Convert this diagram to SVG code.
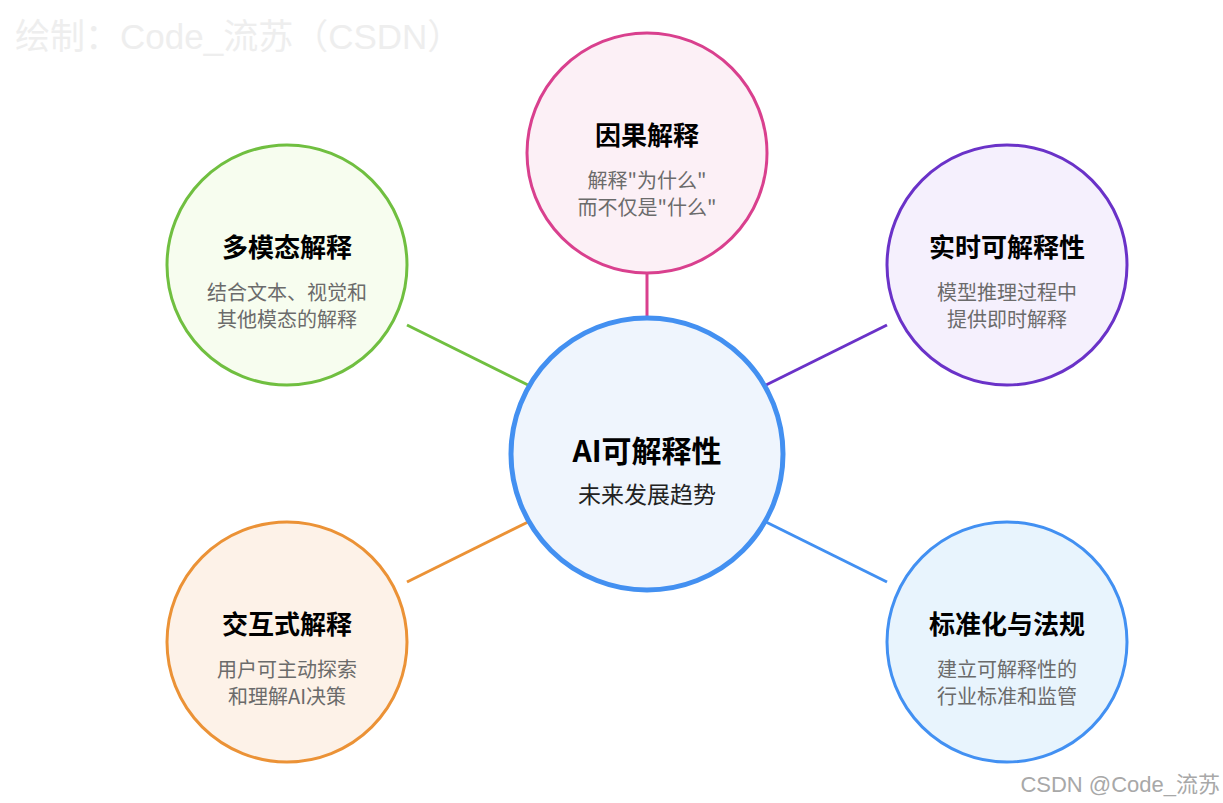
<svg xmlns="http://www.w3.org/2000/svg" width="1223" height="803" viewBox="0 0 1223 803">
<style>
text{font-family:"Noto Sans CJK SC","Noto Sans",sans-serif;text-anchor:middle}
.t{font-size:26px;font-weight:bold;fill:#000}
.s{font-size:20px;fill:#6b6b6b}
.n{stroke-width:3}
.c{stroke-width:3;fill:none}
</style>
<rect width="1223" height="803" fill="#fff"/>
<text x="15" y="49" style="text-anchor:start;font-size:35px;fill:#eeeeee;font-family:'Liberation Sans','Noto Sans CJK SC',sans-serif">绘制：Code_流苏（CSDN）</text>
<g id="connectors">
<line class="c" x1="647" y1="273" x2="647" y2="317" stroke="#d9408e"/>
<line class="c" x1="407" y1="325" x2="528" y2="385" stroke="#70bf40"/>
<line class="c" x1="887" y1="325" x2="766" y2="385" stroke="#6a32c8"/>
<line class="c" x1="407" y1="582" x2="528" y2="522" stroke="#eb9236"/>
<line class="c" x1="887" y1="582" x2="766" y2="522" stroke="#4290f2"/>
</g>
<g id="center">
<circle cx="647" cy="454" r="136" fill="#eff5fd" stroke="#4390f1" stroke-width="5"/>
<text x="647" y="462" style="font-size:30px;font-weight:bold;fill:#000">AI可解释性</text>
<text x="647" y="503" style="font-size:23px;fill:#222">未来发展趋势</text>
</g>
<g id="causal">
<circle class="n" cx="647" cy="153" r="120" fill="#fcf0f6" stroke="#d9408e"/>
<text class="t" x="647" y="145">因果解释</text>
<text class="s" x="647" y="188">解释"为什么"</text>
<text class="s" x="647" y="215">而不仅是"什么"</text>
</g>
<g id="multimodal">
<circle class="n" cx="287" cy="265" r="120" fill="#f7fdef" stroke="#70bf40"/>
<text class="t" x="287" y="257">多模态解释</text>
<text class="s" x="287" y="300">结合文本、视觉和</text>
<text class="s" x="287" y="327">其他模态的解释</text>
</g>
<g id="realtime">
<circle class="n" cx="1007" cy="265" r="120" fill="#f5f0fd" stroke="#6a32c8"/>
<text class="t" x="1007" y="257">实时可解释性</text>
<text class="s" x="1007" y="300">模型推理过程中</text>
<text class="s" x="1007" y="327">提供即时解释</text>
</g>
<g id="interactive">
<circle class="n" cx="287" cy="642" r="120" fill="#fdf2e8" stroke="#eb9236"/>
<text class="t" x="287" y="634">交互式解释</text>
<text class="s" x="287" y="677">用户可主动探索</text>
<text class="s" x="287" y="704">和理解AI决策</text>
</g>
<g id="standards">
<circle class="n" cx="1007" cy="642" r="120" fill="#e8f4fd" stroke="#4290f2"/>
<text class="t" x="1007" y="634">标准化与法规</text>
<text class="s" x="1007" y="677">建立可解释性的</text>
<text class="s" x="1007" y="704">行业标准和监管</text>
</g>
<text x="1220" y="792" style="text-anchor:end;font-size:22px;fill:#a8a8a8;font-family:'Liberation Sans','Noto Sans CJK SC',sans-serif">CSDN @Code_流苏</text>
</svg>
